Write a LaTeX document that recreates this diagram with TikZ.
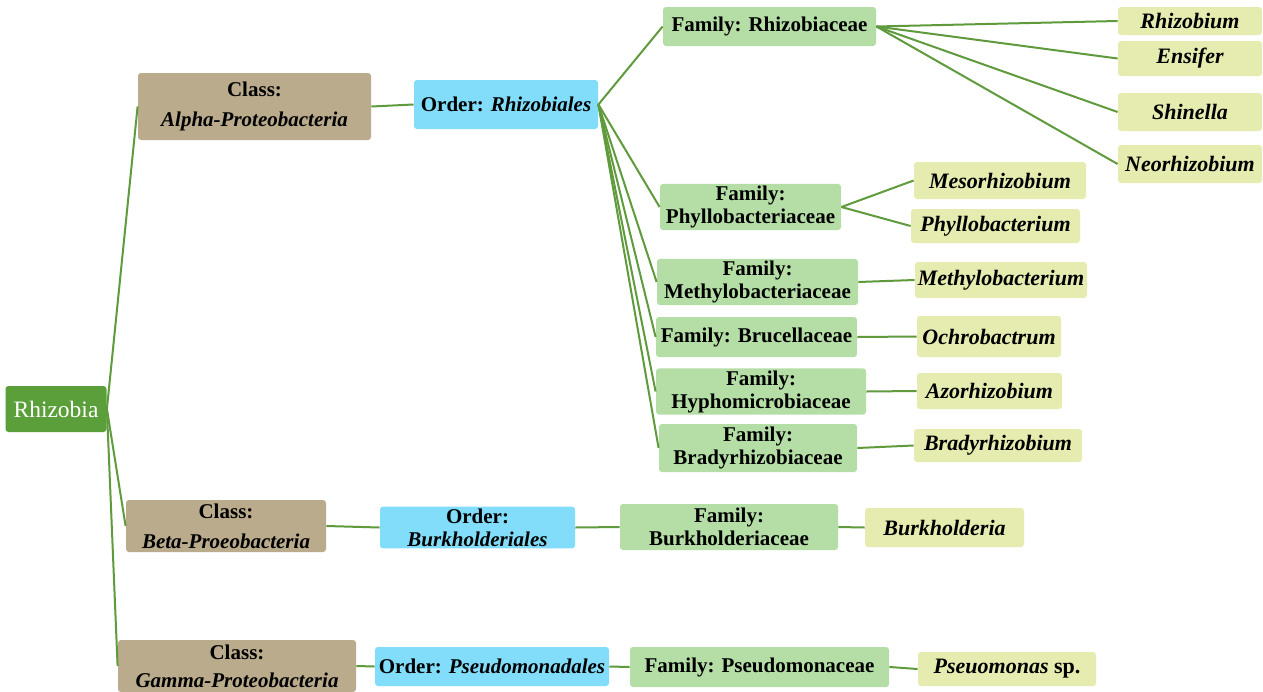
\documentclass[tikz,border=0pt]{standalone}
\usepackage{fontspec}
\setmainfont{Liberation Serif}
\definecolor{rootgreen}{RGB}{91,159,59}
\definecolor{classtan}{RGB}{185,171,139}
\definecolor{orderblue}{RGB}{129,221,249}
\definecolor{familygreen}{RGB}{180,222,165}
\definecolor{genusyellow}{RGB}{230,235,175}
\definecolor{edgegreen}{RGB}{95,155,60}
\tikzset{
	box/.style = {rounded corners=1.5pt, inner sep=1pt, align=center,
		font=\fontsize{10.5}{11.5}\selectfont\bfseries},
	rootbox/.style = {box, fill=rootgreen, text=white,
		font=\fontsize{11.75}{13}\selectfont},
	classbox/.style = {box, fill=classtan},
	orderbox/.style = {box, fill=orderblue},
	familybox/.style = {box, fill=familygreen},
	genusbox/.style = {box, fill=genusyellow,
		font=\fontsize{11}{12}\selectfont\bfseries\itshape},
	link/.style = {edgegreen, line width=1pt}
}

\begin{document}
\begin{tikzpicture}[x=0.5pt, y=-0.5pt]
	\useasboundingbox (0,0) rectangle (1263,691);
	\fill[white] (0,0) rectangle (1263,691);

	% root and classes
	\node[rootbox, minimum width=50.5pt, minimum height=23pt] (rhizobia) at (56,409) {Rhizobia};
	\node[classbox, minimum width=116.5pt, minimum height=33.5pt] (alpha) at (254.5,106.5) {Class:\\[3.5pt] \textit{Alpha-Proteobacteria}};
	\node[classbox, minimum width=100pt, minimum height=26pt] (beta) at (226,526) {Class:\\[3.5pt] \textit{Beta-Proeobacteria}};
	\node[classbox, minimum width=119pt, minimum height=26pt] (gamma) at (237,666) {Class:\\[2.5pt] \textit{Gamma-Proteobacteria}};

	% orders
	\node[orderbox, minimum width=92pt, minimum height=24.5pt] (rhizobiales) at (506,104.5) {Order: \textit{Rhizobiales}};
	\node[orderbox, minimum width=97.5pt, minimum height=19.5pt] (burkholderiales) at (477.5,527.5) {Order:\\ \textit{Burkholderiales}};
	\node[orderbox, minimum width=117pt, minimum height=19.5pt] (pseudomonadales) at (492,666.5) {Order: \textit{Pseudomonadales}};

	% families
	\node[familybox, minimum width=106.5pt, minimum height=19.5pt] (rhizobiaceae) at (769.5,26.5) {Family: Rhizobiaceae};
	\node[familybox, minimum width=90.5pt, minimum height=23pt] (phyllo) at (750.5,207) {Family:\\ Phyllobacteriaceae};
	\node[familybox, minimum width=100.5pt, minimum height=22pt] (methylo) at (757.5,282) {Family:\\ Methylobacteriaceae};
	\node[familybox, minimum width=100.5pt, minimum height=20pt] (brucella) at (756.5,337) {Family: Brucellaceae};
	\node[familybox, minimum width=105pt, minimum height=22.5pt] (hypho) at (761,391.5) {Family:\\ Hyphomicrobiaceae};
	\node[familybox, minimum width=99pt, minimum height=24pt] (brady) at (758,448) {Family:\\ Bradyrhizobiaceae};
	\node[familybox, minimum width=109pt, minimum height=23pt] (burkfam) at (729,527) {Family:\\ Burkholderiaceae};
	\node[familybox, minimum width=129.5pt, minimum height=20pt] (pseudofam) at (759.5,667) {Family: Pseudomonaceae};

	% genera
	\node[genusbox, minimum width=72pt, minimum height=14pt] (rhizobium) at (1190,21) {Rhizobium};
	\node[genusbox, minimum width=72pt, minimum height=17.5pt] (ensifer) at (1190,58.5) {Ensifer};
	\node[genusbox, minimum width=72pt, minimum height=19pt] (shinella) at (1190,112) {Shinella};
	\node[genusbox, minimum width=72pt, minimum height=19pt] (neorhizobium) at (1190,164) {Neorhizobium};
	\node[genusbox, minimum width=86pt, minimum height=18.5pt] (meso) at (1000,180.5) {Mesorhizobium};
	\node[genusbox, minimum width=84.5pt, minimum height=17pt] (phyllobacterium) at (995.5,226) {Phyllobacterium};
	\node[genusbox, minimum width=86pt, minimum height=18pt] (methylobacterium) at (1001,280) {Methylobacterium};
	\node[genusbox, minimum width=72pt, minimum height=20.5pt] (ochrobactrum) at (989,336.5) {Ochrobactrum};
	\node[genusbox, minimum width=72.5pt, minimum height=18pt] (azorhizobium) at (989.5,391) {Azorhizobium};
	\node[genusbox, minimum width=84pt, minimum height=16.5pt] (bradyrhizobium) at (998,445.5) {Bradyrhizobium};
	\node[genusbox, minimum width=79.5pt, minimum height=19.5pt] (burkholderia) at (944.5,527.5) {Burkholderia};
	\node[genusbox, minimum width=89pt, minimum height=17pt] (pseudomonas) at (1007,669) {Pseuomonas\textup{ sp.}};

	% connectors
	\foreach \c in {alpha,beta,gamma}
		\draw[link] (rhizobia.east) -- (\c.west);
	\foreach \f in {rhizobiaceae,phyllo,methylo,brucella,hypho,brady}
		\draw[link] (rhizobiales.east) -- (\f.west);
	\foreach \g in {rhizobium,ensifer,shinella,neorhizobium}
		\draw[link] (rhizobiaceae.east) -- (\g.west);
	\foreach \g in {meso,phyllobacterium}
		\draw[link] (phyllo.east) -- (\g.west);
	\foreach \a/\b in {alpha/rhizobiales, methylo/methylobacterium, brucella/ochrobactrum,
			hypho/azorhizobium, brady/bradyrhizobium, beta/burkholderiales,
			burkholderiales/burkfam, burkfam/burkholderia, gamma/pseudomonadales,
			pseudomonadales/pseudofam, pseudofam/pseudomonas}
		\draw[link] (\a.east) -- (\b.west);
\end{tikzpicture}
\end{document}
